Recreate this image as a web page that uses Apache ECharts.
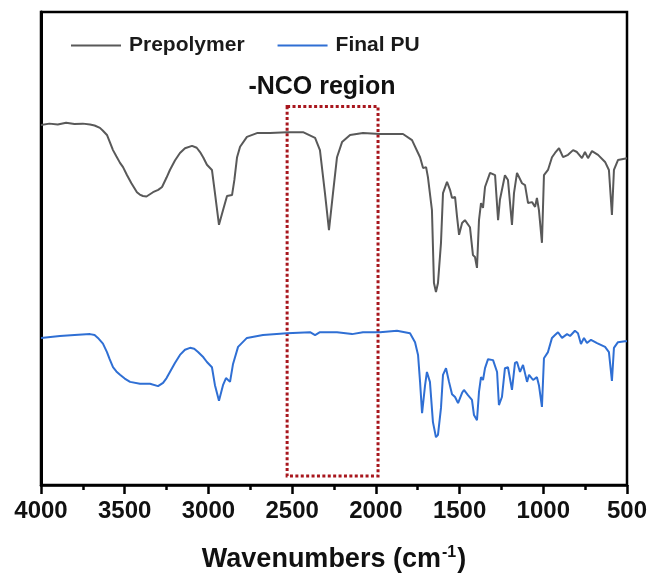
<!DOCTYPE html>
<html>
<head>
<meta charset="utf-8">
<script src="https://cdn.jsdelivr.net/npm/echarts@6/dist/echarts.min.js"></script>
<style>
html,body{margin:0;padding:0;background:#fff;}
#chart{width:655px;height:579px;}
</style>
</head>
<body>
<div id="chart"></div>
<script>
// Wavenumbers (cm-1) and relative transmittance (arbitrary units, offset traces)
const wnPre = [
  4000,3950,3900,3850,3800,3750,3707,3680,3648,3630,
  3606,3590,3570,3550,3528,3510,3486,3460,3427,3410,
  3391,3370,3331,3300,3277,3250,3230,3200,3170,3140,
  3098,3070,3050,3030,3009,2979,2961,2937,2913,2889,
  2859,2845,2829,2811,2770,2710,2632,2531,2435,2363,
  2334,2304,2280,2256,2232,2202,2154,2077,1975,1838,
  1784,1748,1736,1718,1700,1689,1665,1653,1641,1629,
  1611,1599,1575,1557,1545,1527,1515,1503,1485,1468,
  1438,1420,1408,1396,1384,1372,1360,1348,1318,1288,
  1270,1259,1229,1211,1187,1175,1157,1127,1109,1091,
  1067,1049,1038,1026,1008,996,972,948,930,906,
  882,852,822,799,769,751,733,709,673,631,
  608,590,578,554,500
];
const tPre = [
  76.1,76.4,76.2,76.6,76.3,76.4,76.2,76.0,75.5,74.9,
  74.0,72.6,70.8,69.5,68.1,67.2,65.5,63.8,61.9,61.4,
  61.1,61.0,61.9,62.4,63.0,65.0,66.6,68.6,70.2,71.2,
  71.7,71.3,70.4,69.2,67.7,66.6,61.7,55.0,58.1,61.1,
  61.3,64.5,69.3,71.5,73.6,74.4,74.4,74.6,74.6,73.4,
  70.8,61.7,53.9,61.7,69.3,72.5,74.0,74.4,74.2,74.2,
  72.9,70.2,69.3,67.0,67.2,65.1,58.1,42.7,40.8,42.7,
  51.2,61.7,64.1,62.4,60.7,60.9,56.7,52.9,55.4,56.0,
  54.5,48.6,48.2,45.9,56.0,59.6,58.6,63.0,66.0,65.5,
  56.0,60.3,65.5,64.5,55.0,61.7,66.0,63.8,63.4,59.6,
  59.8,58.8,60.7,58.1,51.2,65.5,66.6,69.3,70.2,71.2,
  69.3,69.8,70.8,70.4,69.1,70.4,69.1,70.6,69.8,68.3,
  66.6,57.1,66.6,68.7,69.1
];
const wnPU = [
  4000,3887,3800,3707,3680,3660,3630,3606,3590,3570,
  3550,3528,3500,3468,3409,3349,3301,3271,3250,3230,
  3200,3170,3140,3110,3085,3062,3030,3009,2979,2961,
  2937,2913,2895,2871,2853,2823,2770,2674,2531,2393,
  2363,2334,2232,2142,2077,1975,1874,1796,1766,1748,
  1736,1724,1706,1695,1677,1659,1641,1629,1611,1599,
  1581,1563,1545,1527,1509,1485,1474,1450,1426,1414,
  1396,1384,1372,1360,1348,1330,1300,1276,1265,1247,
  1229,1211,1187,1169,1157,1139,1121,1097,1085,1061,
  1038,1026,1008,996,972,948,930,912,888,858,
  840,811,793,775,757,739,715,679,631,608,
  590,578,554,512,500
];
const tPU = [
  31.1,31.5,31.7,31.9,31.7,31.1,29.9,28.1,26.6,24.9,
  24.0,23.3,22.5,21.8,21.4,21.4,20.9,21.6,22.6,23.9,
  25.8,27.5,28.6,29.0,28.8,28.1,27.0,26.0,24.9,21.1,
  17.8,21.1,22.6,21.8,25.6,29.2,31.1,31.7,32.1,32.3,
  31.7,32.3,32.3,31.9,32.3,32.3,32.6,32.1,30.2,27.5,
  21.8,15.2,21.1,23.9,21.8,13.3,10.1,10.6,16.3,23.3,
  24.7,21.8,19.2,18.6,17.3,19.5,20.1,19.0,18.0,14.8,
  13.7,19.7,22.8,22.2,24.7,26.6,26.4,23.9,16.9,18.6,
  24.7,24.9,20.1,25.8,26.0,23.9,25.4,21.8,23.3,22.2,
  22.8,21.1,16.5,26.8,28.1,31.1,31.7,32.3,31.1,31.9,
  31.5,32.6,32.1,29.8,31.1,30.0,30.7,30.0,29.2,28.1,
  22.0,29.0,30.2,30.4,30.4
];
const seriesNames = ['Prepolymer', 'Final PU'];
const xTicks = [4000, 3500, 3000, 2500, 2000, 1500, 1000, 500];
// -NCO region annotation bounds (wavenumber, relative y)
const ncoRegionX = [2530, 1987];
const ncoRegionY = [80, 1.9];

const FONT = '"Liberation Sans", Arial, sans-serif';
const zip = (a, b) => a.map((v, i) => [v, b[i]]);

const chart = echarts.init(document.getElementById('chart'), null, {renderer: 'canvas'});
chart.setOption({
  animation: false,
  backgroundColor: '#ffffff',
  grid: {left: 41, right: 28, top: 12, bottom: 94, show: true, borderColor: '#000', borderWidth: 2.5, backgroundColor: 'transparent'},
  legend: {
    data: seriesNames,
    icon: 'rect',
    left: 66, top: 30,
    itemWidth: 50, itemHeight: 2, itemGap: 33,
    textStyle: {fontFamily: FONT, fontWeight: 'bold', fontSize: 21, color: '#1a1a1a', padding: [0, 0, 0, 3]}
  },
  xAxis: {
    type: 'value', inverse: true, min: 500, max: 4000, interval: 500,
    axisLine: {show: true, onZero: false, lineStyle: {color: '#000', width: 2.5}},
    axisTick: {show: true, inside: false, length: 9, lineStyle: {color: '#000', width: 2.5}},
    minorTick: {show: true, splitNumber: 2, length: 5, lineStyle: {color: '#000', width: 2.5}},
    splitLine: {show: false},
    axisLabel: {fontFamily: FONT, fontWeight: 'bold', fontSize: 24, color: '#111', margin: 14,
      formatter: v => xTicks.indexOf(v) >= 0 ? String(v) : ''},
    name: '{m|Wavenumbers (cm}{s|-1}{m|)}',
    nameLocation: 'middle', nameGap: 60,
    nameTextStyle: {
      rich: {
        m: {fontFamily: FONT, fontWeight: 'bold', fontSize: 27, color: '#111', lineHeight: 30},
        s: {fontFamily: FONT, fontWeight: 'bold', fontSize: 16, color: '#111', verticalAlign: 'top', lineHeight: 30, padding: [0, 1, 12, 1]}
      }
    }
  },
  yAxis: {
    type: 'value', min: 0, max: 100,
    axisLine: {show: true, lineStyle: {color: '#000', width: 3}},
    axisTick: {show: false}, axisLabel: {show: false}, splitLine: {show: false}
  },
  series: [
    {
      name: seriesNames[0], type: 'line', data: zip(wnPre, tPre), symbol: 'none',
      lineStyle: {color: '#595959', width: 2}, itemStyle: {color: '#595959'},
      markArea: {
        silent: true,
        itemStyle: {color: 'rgba(0,0,0,0)', borderColor: '#a8161d', borderWidth: 3, borderType: [3, 2.4]},
        data: [[{xAxis: ncoRegionX[0], yAxis: ncoRegionY[0]}, {xAxis: ncoRegionX[1], yAxis: ncoRegionY[1]}]]
      }
    },
    {
      name: seriesNames[1], type: 'line', data: zip(wnPU, tPU), symbol: 'none',
      lineStyle: {color: '#2f6fd4', width: 2}, itemStyle: {color: '#2f6fd4'}
    }
  ],
  graphic: [
    {type: 'text', x: 322, y: 87, style: {text: '-NCO region', fontFamily: FONT, fontWeight: 'bold', fontSize: 25, fill: '#111', align: 'center', verticalAlign: 'middle'}}
  ]
});
</script>
</body>
</html>
